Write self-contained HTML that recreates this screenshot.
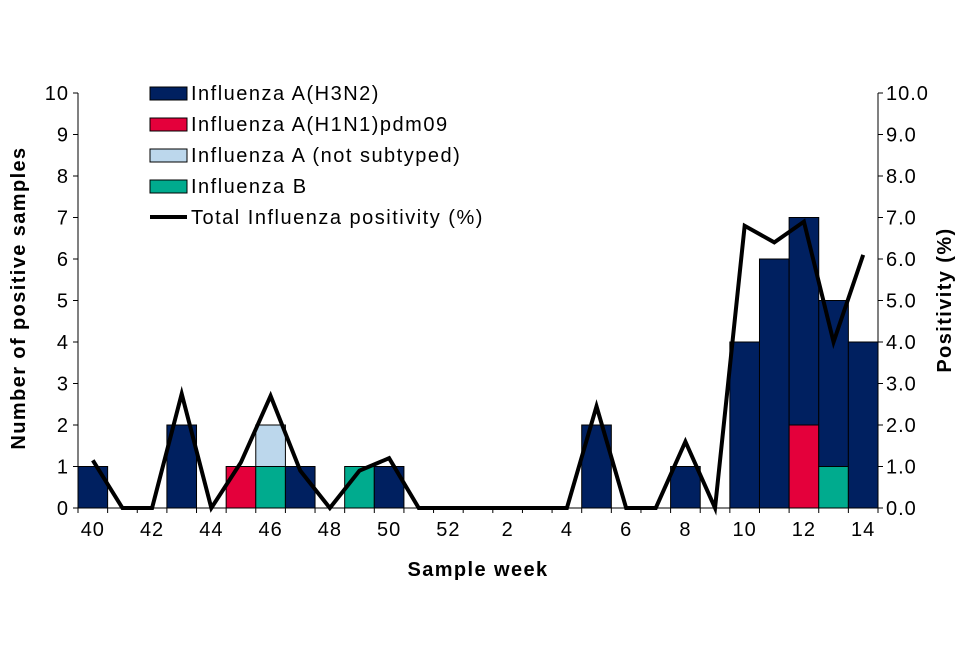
<!DOCTYPE html>
<html><head><meta charset="utf-8"><style>
body{margin:0;background:#fff;}
svg text{font-family:"Liberation Sans",sans-serif;fill:#000;letter-spacing:1px;}
#legend text{letter-spacing:1.5px;}
.title{letter-spacing:1.4px !important;}
</style></head><body>
<svg id="chart" width="960" height="640" xmlns="http://www.w3.org/2000/svg">
<g id="bars"></g>
<g id="axes"></g>
<g id="line"></g>
<g id="legend"></g>
<text class="title" x="478" y="576" font-size="20" font-weight="bold" text-anchor="middle">Sample week</text>
<text class="title" transform="translate(25,298) rotate(-90)" font-size="20" font-weight="bold" text-anchor="middle">Number of positive samples</text>
<text class="title" transform="translate(951,300) rotate(-90)" font-size="20" font-weight="bold" text-anchor="middle">Positivity (%)</text>
</svg>
<script>
const weeks=[40,41,42,43,44,45,46,47,48,49,50,51,52,1,2,3,4,5,6,7,8,9,10,11,12,13,14];
const h3n2=[1,0,0,2,0,0,0,1,0,0,1,0,0,0,0,0,0,2,0,0,1,0,4,6,5,4,4];
const h1n1=[0,0,0,0,0,1,0,0,0,0,0,0,0,0,0,0,0,0,0,0,0,0,0,0,2,0,0];
const notSub=[0,0,0,0,0,0,1,0,0,0,0,0,0,0,0,0,0,0,0,0,0,0,0,0,0,0,0];
const fluB=[0,0,0,0,0,0,1,0,0,1,0,0,0,0,0,0,0,0,0,0,0,0,0,0,0,1,0];
const positivity=[1.15,0,0,2.75,0,1.1,2.7,0.9,0,0.9,1.2,0,0,0,0,0,0,2.45,0,0,1.6,0,6.8,6.4,6.9,4.0,6.1];
const yTicks=[0,1,2,3,4,5,6,7,8,9,10];
const y2Ticks=["0.0","1.0","2.0","3.0","4.0","5.0","6.0","7.0","8.0","9.0","10.0"];
const ns="http://www.w3.org/2000/svg";
const X0=78,X1=878,Y0=508,Y1=93;
const bw=(X1-X0)/weeks.length;
const xs=i=>X0+bw*(i+0.5);
const ys=v=>Y0-(Y0-Y1)*v/10;
function mk(t,a,p){const e=document.createElementNS(ns,t);for(const k in a)e.setAttribute(k,a[k]);p.appendChild(e);return e;}
const bars=document.getElementById('bars');
weeks.forEach((w,i)=>{
 let base=0;
 const order=[["h1n1",h1n1,"#e4003b"],["influenza-b",fluB,"#00ab8e"],["not-subtyped",notSub,"#bcd7ec"],["h3n2",h3n2,"#002060"]];
 order.forEach(s=>{const v=s[1][i];if(v>0){
  const r=mk('rect',{x:X0+bw*i,y:ys(base+v),width:bw,height:ys(base)-ys(base+v),fill:s[2],stroke:'#000','stroke-width':1},bars);
  
  
  base+=v;}});
});
const ax=document.getElementById('axes');
mk('line',{x1:X0,y1:Y1,x2:X0,y2:Y0,stroke:'#000'},ax);
mk('line',{x1:X1,y1:Y1,x2:X1,y2:Y0,stroke:'#000'},ax);
mk('line',{x1:X0,y1:Y0,x2:X1,y2:Y0,stroke:'#000'},ax);
yTicks.forEach((t,i)=>{
 mk('line',{x1:X0-5,y1:ys(t),x2:X0,y2:ys(t),stroke:'#000'},ax);
 mk('line',{x1:X1,y1:ys(t),x2:X1+5,y2:ys(t),stroke:'#000'},ax);
 const a=mk('text',{x:X0-9,y:ys(t)+7,'font-size':20,'text-anchor':'end'},ax);a.textContent=t;
 
 
 const b=mk('text',{x:X1+8,y:ys(t)+7,'font-size':20},ax);b.textContent=y2Ticks[i];
 
 
});
weeks.forEach((w,i)=>{
 mk('line',{x1:X0+bw*i,y1:Y0,x2:X0+bw*i,y2:Y0+5,stroke:'#000'},ax);
 if(i%2==0){const t=mk('text',{x:xs(i),y:Y0+28,'font-size':20,'text-anchor':'middle'},ax);t.textContent=w;
 
 }
});
mk('line',{x1:X1,y1:Y0,x2:X1,y2:Y0+5,stroke:'#000'},ax);
const pts=positivity.map((v,i)=>xs(i)+','+ys(v)).join(' ');
const pl=mk('polyline',{points:pts,fill:'none',stroke:'#000','stroke-width':4,'stroke-linejoin':'miter'},document.getElementById('line'));


const lg=document.getElementById('legend');
const items=[["#002060","Influenza A(H3N2)"],["#e4003b","Influenza A(H1N1)pdm09"],["#bcd7ec","Influenza A (not subtyped)"],["#00ab8e","Influenza B"]];
items.forEach((it,i)=>{const y=93+i*31;
 const r=mk('rect',{x:150,y:y-6,width:37,height:13,fill:it[0],stroke:'#000'},lg);
 
 
 const t=mk('text',{x:191,y:y+7,'font-size':20},lg);t.textContent=it[1];
 
 });
mk('line',{x1:150,y1:217,x2:187,y2:217,stroke:'#000','stroke-width':4},lg);
const lt=mk('text',{x:191,y:224,'font-size':20},lg);lt.textContent="Total Influenza positivity (%)";


</script>
</body></html>
